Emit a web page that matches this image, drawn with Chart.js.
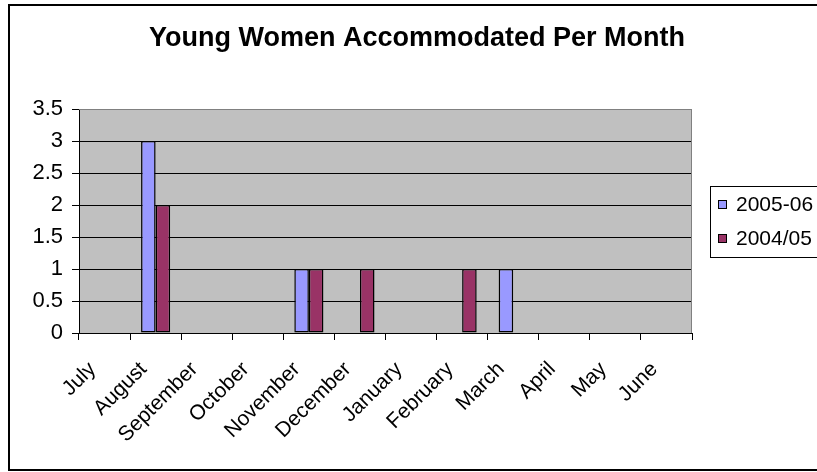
<!DOCTYPE html>
<html>
<head>
<meta charset="utf-8">
<title>Young Women Accommodated Per Month</title>
<script src="https://cdn.jsdelivr.net/npm/chart.js@4.4.1/dist/chart.umd.min.js"></script>
<style>
  html, body { margin: 0; padding: 0; background: #fff; }
</style>
</head>
<body>
<canvas id="myChart" width="817" height="472"></canvas>
<script>
const months = ['July', 'August', 'September', 'October', 'November', 'December',
  'January', 'February', 'March', 'April', 'May', 'June'];
const season0506 = [0, 3, 0, 0, 1, 0, 0, 0, 1, 0, 0, 0];
const season0405 = [0, 2, 0, 0, 1, 1, 0, 1, 0, 0, 0, 0];
const yTicks = [0, 0.5, 1, 1.5, 2, 2.5, 3, 3.5];

const chartTitle = 'Young Women Accommodated Per Month';
const FONT = "'Liberation Sans', Arial, sans-serif";

// white page, grey plot area, title and the outer frame
const backdrop = {
  id: 'backdrop',
  beforeDraw(chart) {
    const { ctx, chartArea: a } = chart;
    ctx.save();
    ctx.fillStyle = '#fff';
    ctx.fillRect(0, 0, chart.width, chart.height);
    ctx.fillStyle = '#c0c0c0';
    ctx.fillRect(a.left, a.top, a.right - a.left, a.bottom - a.top);
    ctx.restore();
  },
  afterDraw(chart) {
    const { ctx, chartArea: a } = chart;
    ctx.save();
    // top and right edge of the plot area
    ctx.strokeStyle = '#808080';
    ctx.lineWidth = 1;
    ctx.beginPath();
    ctx.moveTo(a.left, a.top + 0.5);
    ctx.lineTo(a.right - 0.5, a.top + 0.5);
    ctx.lineTo(a.right - 0.5, a.bottom);
    ctx.stroke();
    // title is centred on the whole frame, not just the plot
    ctx.fillStyle = '#000';
    ctx.font = 'bold 27px ' + FONT;
    ctx.textAlign = 'center';
    ctx.textBaseline = 'alphabetic';
    ctx.fillText(chartTitle, 417, 46);
    // chart frame, runs off the right edge
    ctx.strokeStyle = '#000';
    ctx.lineWidth = 2;
    ctx.strokeRect(9, 5, 900, 465);
    ctx.restore();
  }
};

// boxed legend to the right of the plot
const boxLegend = {
  id: 'boxLegend',
  afterDraw(chart) {
    const { ctx } = chart;
    const left = 710, top = 186, rowH = 34;
    ctx.save();
    ctx.strokeStyle = '#000';
    ctx.lineWidth = 1;
    ctx.strokeRect(left + 0.5, top + 0.5, 150, 71);
    ctx.font = '21px ' + FONT;
    ctx.textBaseline = 'middle';
    chart.data.datasets.forEach((ds, i) => {
      const cy = top + 18 + i * rowH;
      ctx.fillStyle = ds.backgroundColor;
      ctx.fillRect(718, cy - 4, 9, 9);
      ctx.strokeRect(718.5, cy - 3.5, 8, 8);
      ctx.fillStyle = '#000';
      ctx.fillText(ds.label, 736, cy + 1);
    });
    ctx.restore();
  }
};

const ctx = document.getElementById('myChart').getContext('2d');

// eslint-disable-next-line
const chart = new Chart(ctx, {
  type: 'bar',
  data: {
    labels: months,
    datasets: [
      {
        label: '2005-06',
        backgroundColor: '#9999ff',
        borderColor: '#000',
        borderWidth: 1.5,
        borderSkipped: false,
        data: season0506,
      },
      {
        label: '2004/05',
        backgroundColor: '#993366',
        borderColor: '#000',
        borderWidth: 1.5,
        borderSkipped: false,
        data: season0405,
      },
    ],
  },
  options: {
    responsive: false,
    animation: false,
    categoryPercentage: 0.57,
    barPercentage: 1,
    layout: { padding: { left: 10, right: 125, top: 109, bottom: 0 } },
    plugins: {
      legend: { display: false },
      tooltip: { enabled: false },
      title: { display: false },
    },
    scales: {
      x: {
        offset: true,
        grid: {
          offset: true,
          drawOnChartArea: false,
          drawTicks: true,
          tickLength: 7,
          tickColor: '#000',
          color: '#000',
        },
        border: { color: '#000', width: 1 },
        ticks: {
          color: '#000',
          font: { family: FONT, size: 21 },
          minRotation: 45,
          maxRotation: 45,
          autoSkip: false,
          padding: 17,
          labelOffset: -12,
        },
        afterFit(scale) { scale.height = 139; },
      },
      y: {
        min: yTicks[0],
        max: yTicks[yTicks.length - 1],
        afterBuildTicks(scale) { scale.ticks = yTicks.map(v => ({ value: v })); },
        grid: {
          color: c => (c.tick && c.tick.value === yTicks[yTicks.length - 1] ? '#808080' : '#000'),
          tickColor: '#000',
          tickLength: 7,
        },
        border: { color: '#000', width: 1 },
        ticks: {
          color: '#000',
          font: { family: FONT, size: 22 },
          padding: 9,
          callback: v => String(v),
        },
        afterFit(scale) { scale.width = 69; },
      },
    },
  },
  plugins: [backdrop, boxLegend],
});
</script>
</body>
</html>
